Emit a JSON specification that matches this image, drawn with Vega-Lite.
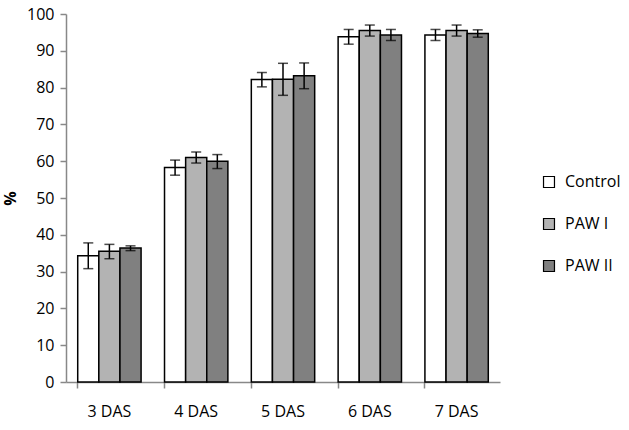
{
  "$schema": "https://vega.github.io/schema/vega-lite/v6.json",
  "width": 434,
  "height": 368,
  "autosize": {"type": "none"},
  "padding": {"left": 66, "top": 14, "right": 129, "bottom": 48},
  "background": "white",
  "config": {
    "view": {"stroke": null},
    "font": "Open Sans",
    "axis": {"grid": false, "labelFont": "Open Sans", "titleFont": "Open Sans"},
    "axisY": {
      "labelOverlap": false, "labelFontSize": 16, "labelColor": "#000", "labelPadding": 6,
      "domainColor": "#888", "tickColor": "#888", "tickSize": 6,
      "tickWidth": 1.5, "domainWidth": 1.5,
      "titleFontSize": 16, "titleFontWeight": "bold", "titleColor": "#000", "titlePadding": 8
    }
  },
  "data": {
    "values": [
      {"day": "3 DAS", "group": "Control", "mean": 34.3, "lo": 30.8, "hi": 37.8},
      {"day": "3 DAS", "group": "PAW I", "mean": 35.5, "lo": 33.5, "hi": 37.4},
      {"day": "3 DAS", "group": "PAW II", "mean": 36.4, "lo": 35.7, "hi": 37.0},
      {"day": "4 DAS", "group": "Control", "mean": 58.3, "lo": 56.2, "hi": 60.3},
      {"day": "4 DAS", "group": "PAW I", "mean": 61.0, "lo": 59.5, "hi": 62.5},
      {"day": "4 DAS", "group": "PAW II", "mean": 60.0, "lo": 58.0, "hi": 61.8},
      {"day": "5 DAS", "group": "Control", "mean": 82.2, "lo": 80.2, "hi": 84.1},
      {"day": "5 DAS", "group": "PAW I", "mean": 82.3, "lo": 77.9, "hi": 86.6},
      {"day": "5 DAS", "group": "PAW II", "mean": 83.2, "lo": 79.7, "hi": 86.7},
      {"day": "6 DAS", "group": "Control", "mean": 93.8, "lo": 91.8, "hi": 95.8},
      {"day": "6 DAS", "group": "PAW I", "mean": 95.5, "lo": 94.0, "hi": 97.0},
      {"day": "6 DAS", "group": "PAW II", "mean": 94.3, "lo": 92.8, "hi": 95.8},
      {"day": "7 DAS", "group": "Control", "mean": 94.3, "lo": 92.8, "hi": 95.8},
      {"day": "7 DAS", "group": "PAW I", "mean": 95.5, "lo": 94.0, "hi": 97.0},
      {"day": "7 DAS", "group": "PAW II", "mean": 94.7, "lo": 93.7, "hi": 95.7}
    ]
  },
  "encoding": {
    "x": {
      "field": "day", "type": "nominal",
      "scale": {"paddingInner": 0.27, "paddingOuter": 0.135},
      "axis": {
        "title": null, "labelAngle": 0, "labelFontSize": 16, "labelColor": "#000",
        "labelPadding": 15, "domainColor": "#888", "tickColor": "#888",
        "tickSize": 6, "bandPosition": 0, "tickWidth": 1.5, "domainWidth": 1.5
      }
    },
    "xOffset": {"field": "group", "type": "nominal", "sort": ["Control", "PAW I", "PAW II"]}
  },
  "layer": [
    {
      "mark": {"type": "bar", "stroke": "#000", "strokeWidth": 1.5},
      "encoding": {
        "y": {
          "field": "mean", "type": "quantitative",
          "scale": {"domain": [0, 100], "nice": false},
          "axis": {"title": "%", "values": [0, 10, 20, 30, 40, 50, 60, 70, 80, 90, 100]}
        },
        "fill": {
          "field": "group", "type": "nominal",
          "scale": {"domain": ["Control", "PAW I", "PAW II"], "range": ["#ffffff", "#b3b3b3", "#808080"]},
          "legend": {
            "title": null, "orient": "none", "legendX": 475, "legendY": 160,
            "symbolType": "square", "symbolSize": 120, "symbolStrokeColor": "#000",
            "symbolStrokeWidth": 1.2, "labelFontSize": 16, "labelColor": "#000",
            "rowPadding": 26, "labelOffset": 8
          }
        }
      }
    },
    {
      "mark": {"type": "rule", "color": "#000", "strokeWidth": 1.5},
      "encoding": {
        "y": {"field": "lo", "type": "quantitative", "axis": {"title": "%", "values": [0, 10, 20, 30, 40, 50, 60, 70, 80, 90, 100]}},
        "y2": {"field": "hi"}
      }
    },
    {
      "mark": {"type": "tick", "color": "#000", "size": 10, "thickness": 1.5},
      "encoding": {"y": {"field": "lo", "type": "quantitative", "axis": {"title": "%", "values": [0, 10, 20, 30, 40, 50, 60, 70, 80, 90, 100]}}}
    },
    {
      "mark": {"type": "tick", "color": "#000", "size": 10, "thickness": 1.5},
      "encoding": {"y": {"field": "hi", "type": "quantitative", "axis": {"title": "%", "values": [0, 10, 20, 30, 40, 50, 60, 70, 80, 90, 100]}}}
    }
  ]
}
